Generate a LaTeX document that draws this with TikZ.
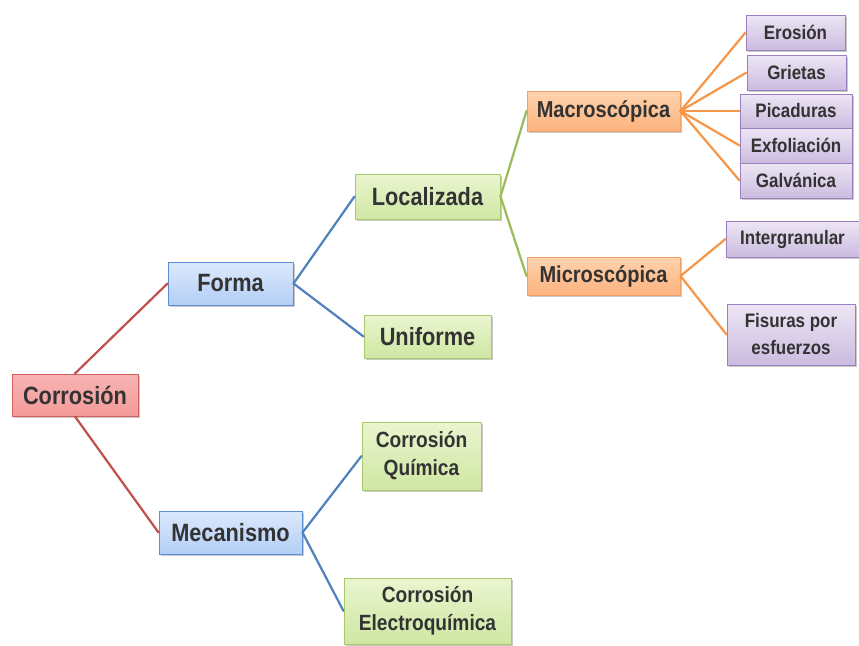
\documentclass[tikz,border=0pt]{standalone}
\usepackage{fontspec}
\setmainfont{Liberation Sans}[FakeStretch=0.87]
\usetikzlibrary{shadows}
\definecolor{txt}{HTML}{333333}
\definecolor{redL}{HTML}{C0504D}
\definecolor{blueL}{HTML}{4F81BD}
\definecolor{greenL}{HTML}{9BBB59}
\definecolor{orangeL}{HTML}{F79646}
\definecolor{redB}{HTML}{D0605E}
\definecolor{redT}{HTML}{F7B4B3}
\definecolor{redBo}{HTML}{F39A99}
\definecolor{blueB}{HTML}{5E8ED2}
\definecolor{blueT}{HTML}{DCE9FC}
\definecolor{blueBo}{HTML}{B3CEF6}
\definecolor{greenB}{HTML}{A9C96C}
\definecolor{greenT}{HTML}{EAF5CF}
\definecolor{greenBo}{HTML}{CFE7A3}
\definecolor{orangeB}{HTML}{F2A262}
\definecolor{orangeT}{HTML}{FFD3AE}
\definecolor{orangeBo}{HTML}{FCB27E}
\definecolor{purpleB}{HTML}{9A80BF}
\definecolor{purpleT}{HTML}{EDE6F4}
\definecolor{purpleBo}{HTML}{CBBBDF}
\tikzset{
  box/.style={draw, line width=1pt, inner sep=0pt, align=center, text=txt,
    drop shadow={shadow xshift=1.5pt, shadow yshift=-1.8pt, opacity=0.35, fill=black!60}},
  rootbox/.style={box, draw=redB, top color=redT, bottom color=redBo},
  lvA/.style={box, draw=blueB, top color=blueT, bottom color=blueBo},
  lvB/.style={box, draw=greenB, top color=greenT, bottom color=greenBo},
  lvC/.style={box, draw=orangeB, top color=orangeT, bottom color=orangeBo},
  lvD/.style={box, draw=purpleB, top color=purpleT, bottom color=purpleBo},
  con/.style={line width=2.2pt, line cap=round},
}
\newcommand{\fsA}{\bfseries\fontsize{25}{27}\selectfont}
\newcommand{\fsB}{\bfseries\fontsize{23}{25}\selectfont}
\newcommand{\fsC}{\bfseries\fontsize{19.5}{22}\selectfont}
\newcommand{\fsD}{\bfseries\fontsize{22}{28}\selectfont}
\begin{document}
\begin{tikzpicture}[x=1pt,y=-1pt]
\useasboundingbox (0,0) rectangle (859,645);
\fill[white] (0,0) rectangle (859,645);
% nodes
\node[rootbox, minimum width=126pt, minimum height=42pt, font=\fsA] (root) at (75,395) {Corrosión};
\node[lvA, minimum width=125pt, minimum height=43pt, font=\fsA] (forma) at (230.5,283.5) {Forma};
\node[lvA, minimum width=143pt, minimum height=43pt, font=\fsA] (meca) at (230.5,532.5) {Mecanismo};
\node[lvB, minimum width=145pt, minimum height=45pt, font=\fsA] (loca) at (427.5,196.5) {Localizada};
\node[lvB, minimum width=127pt, minimum height=43pt, font=\fsA] (unif) at (427.5,336.5) {Uniforme};
\node[lvB, minimum width=119pt, minimum height=68pt, font=\fsD] (quim) at (421.5,456) {Corrosión\\Química};
\node[lvB, minimum width=167pt, minimum height=66pt, font=\fsD] (elec) at (427.5,611) {Corrosión\\Electroquímica};
\node[lvC, minimum width=153pt, minimum height=40pt, font=\fsB] (macro) at (603.5,111) {Macroscópica};
\node[lvC, minimum width=153pt, minimum height=38pt, font=\fsB] (micro) at (603.5,276) {Microscópica};
\node[lvD, minimum width=99pt, minimum height=35pt, font=\fsC] (eros) at (795.5,32.5) {Erosión};
\node[lvD, minimum width=99pt, minimum height=35pt, font=\fsC] (grie) at (796.5,72.5) {Grietas};
\node[lvD, minimum width=112pt, minimum height=34pt, font=\fsC] (pica) at (796,111) {Picaduras};
\node[lvD, minimum width=112pt, minimum height=35pt, font=\fsC] (exfo) at (796,145.5) {Exfoliación};
\node[lvD, minimum width=112pt, minimum height=35pt, font=\fsC] (galv) at (796,180.5) {Galvánica};
\node[lvD, minimum width=133pt, minimum height=36pt, font=\fsC] (inter) at (792.5,239) {Intergranular};
\node[lvD, minimum width=128pt, minimum height=61pt, font=\bfseries\fontsize{19.5}{27}\selectfont] (fisu) at (791,334.5) {Fisuras por\\esfuerzos};
% connectors
\draw[con, redL] (root.north) -- (forma.west);
\draw[con, redL] (root.south) -- (meca.west);
\draw[con, blueL] (forma.east) -- (loca.west);
\draw[con, blueL] (forma.east) -- (unif.west);
\draw[con, blueL] (meca.east) -- (quim.west);
\draw[con, blueL] (meca.east) -- (elec.west);
\draw[con, greenL] (loca.east) -- (macro.west);
\draw[con, greenL] (loca.east) -- (micro.west);
\draw[con, orangeL] (macro.east) -- (eros.west);
\draw[con, orangeL] (macro.east) -- (grie.west);
\draw[con, orangeL] (macro.east) -- (pica.west);
\draw[con, orangeL] (macro.east) -- (exfo.west);
\draw[con, orangeL] (macro.east) -- (galv.west);
\draw[con, orangeL] (micro.east) -- (inter.west);
\draw[con, orangeL] (micro.east) -- (fisu.west);
\end{tikzpicture}
\end{document}
